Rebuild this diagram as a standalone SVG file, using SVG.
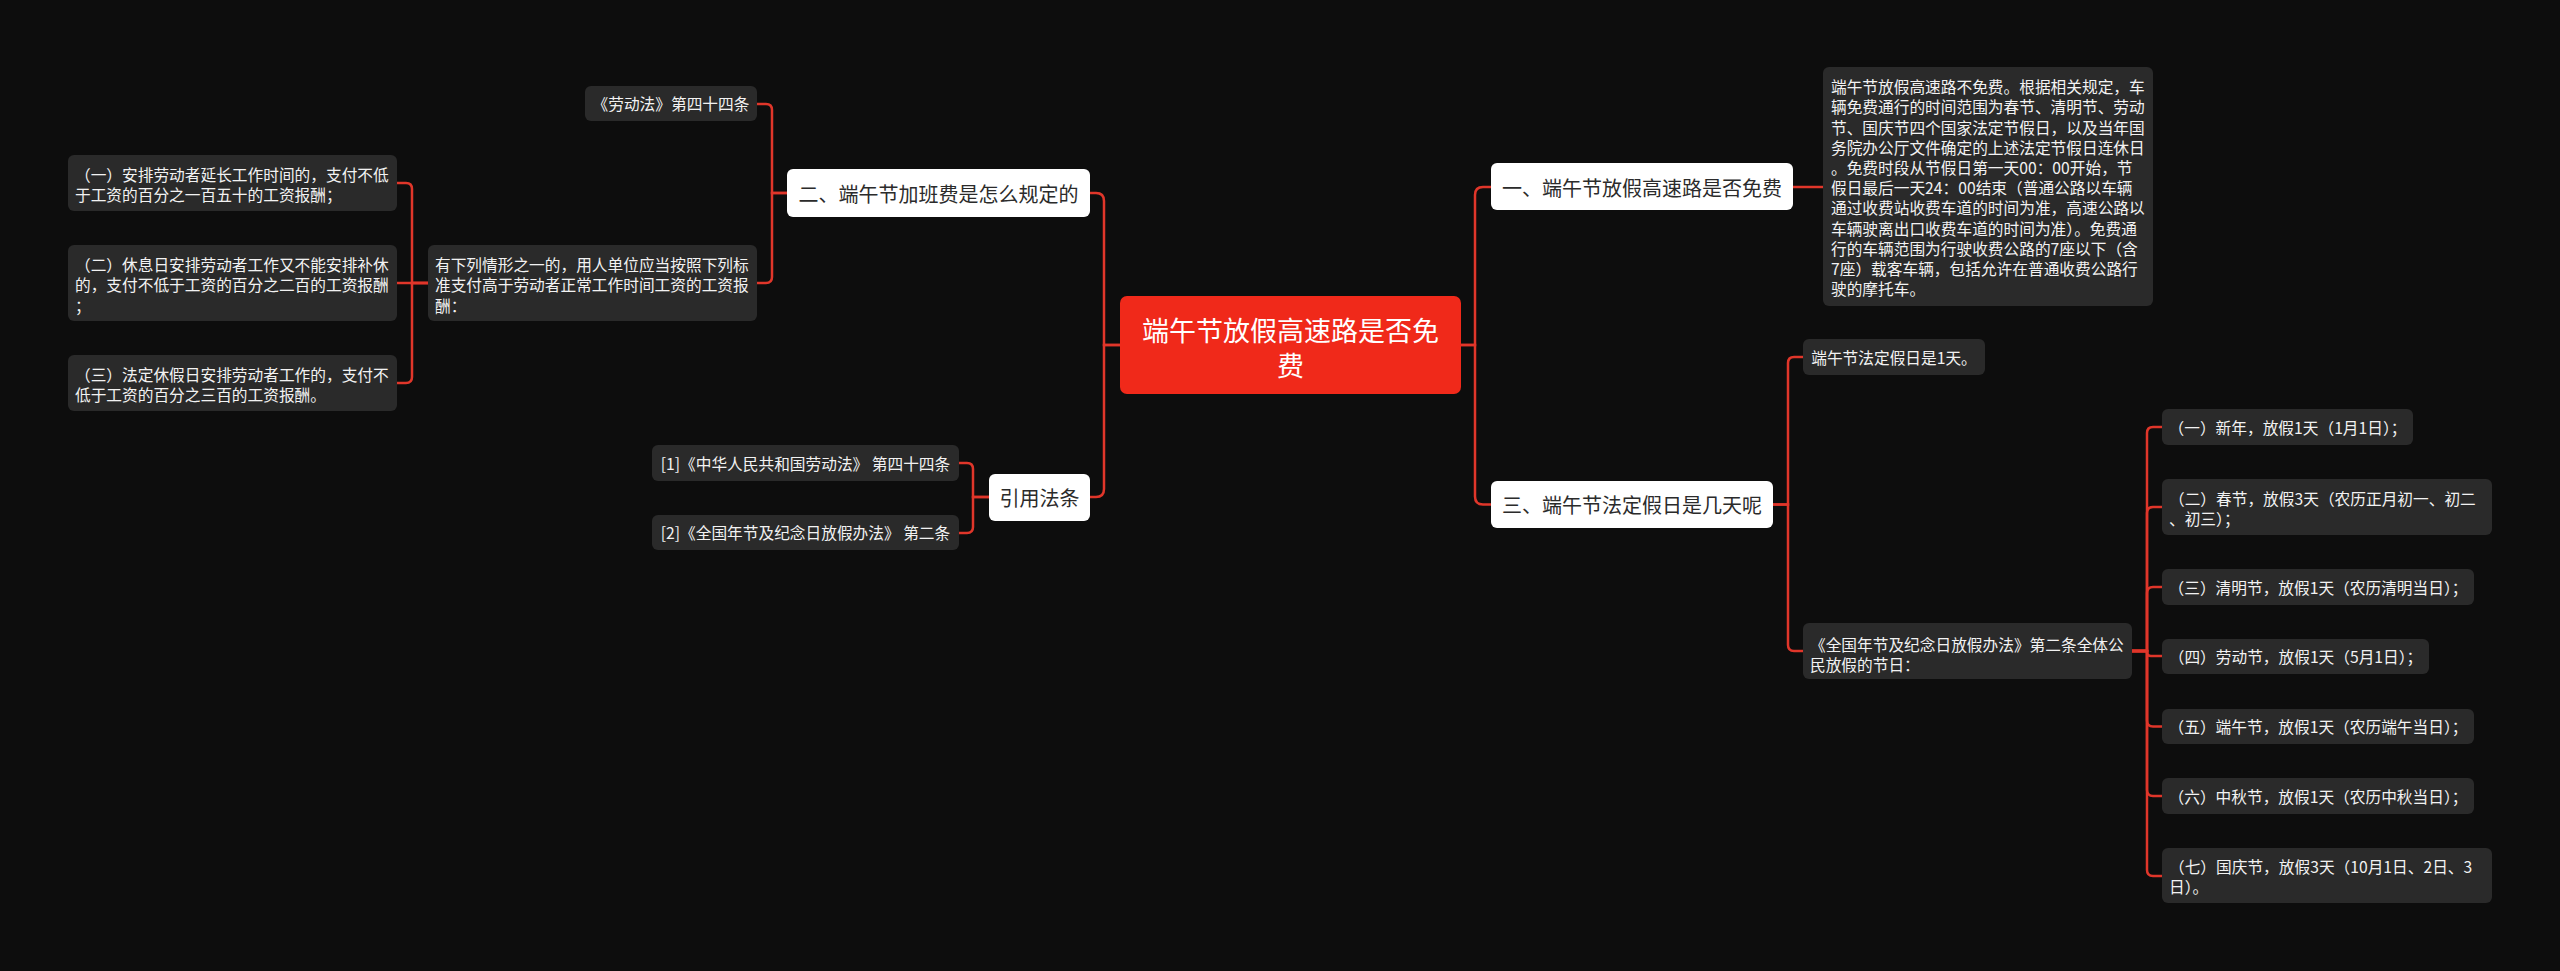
<svg xmlns="http://www.w3.org/2000/svg" width="2560" height="971" viewBox="0 0 2560 971">
<style>
.bg{fill:#0d0d0d}
.root rect{fill:#f0291a}
.root text{fill:#ffffff;font-size:27px}
.main rect{fill:#ffffff}
.main text{fill:#2b2b2b;font-size:20px}
.leaf rect{fill:#2a2a2a}
.leaf text{fill:#f2f2f2;font-size:15.7px}
text{font-family:"Noto Sans CJK SC","Noto Sans",sans-serif;dominant-baseline:central}
.c{text-anchor:middle}
.conn path{fill:none;stroke:#e0362a;stroke-width:2.5}
</style>
<rect class="bg" x="0" y="0" width="2560" height="971"/>

<g class="conn" id="connectors">
<path d="M1461 345 H1475 V195 Q1475 187 1483 187 H1491"/>
<path d="M1461 345 H1475 V496.5 Q1475 504.5 1483 504.5 H1491"/>
<path d="M1120 345 H1104 V201 Q1104 193 1096 193 H1090"/>
<path d="M1120 345 H1104 V489 Q1104 497 1096 497 H1090"/>
<path d="M787 193 H772 V110 Q772 104 766 104 H757"/>
<path d="M787 193 H772 V277 Q772 283 766 283 H757"/>
<path d="M428 283 H412 V189 Q412 183 406 183 H397"/>
<path d="M428 283 H397"/>
<path d="M428 283 H412 V377 Q412 383 406 383 H397"/>
<path d="M989 497 H973 V469 Q973 463 967 463 H959"/>
<path d="M989 497 H973 V527 Q973 533 967 533 H959"/>
<path d="M1793 187 H1823"/>
<path d="M1773 504.5 H1788 V363 Q1788 357 1794 357 H1803"/>
<path d="M1773 504.5 H1788 V645 Q1788 651 1794 651 H1803"/>
<path d="M2132 651 H2147 V433 Q2147 427 2153 427 H2162"/>
<path d="M2132 651 H2147 V513 Q2147 507 2153 507 H2162"/>
<path d="M2132 651 H2147 V593 Q2147 587 2153 587 H2162"/>
<path d="M2132 651 H2147 V652 Q2147 656 2151 656 H2162"/>
<path d="M2132 651 H2147 V720.5 Q2147 726.5 2153 726.5 H2162"/>
<path d="M2132 651 H2147 V790 Q2147 796 2153 796 H2162"/>
<path d="M2132 651 H2147 V870 Q2147 876 2153 876 H2162"/>
</g>

<g id="root" class="root">
<rect x="1120" y="296" width="341" height="98" rx="7"/>
<text class="c" x="1290.5" y="329">端午节放假高速路是否免</text>
<text class="c" x="1290.5" y="364">费</text>
</g>

<g id="n-yi" class="main">
<rect x="1491" y="163" width="302" height="47" rx="6"/>
<text class="c" x="1642" y="187">一、端午节放假高速路是否免费</text>
</g>
<g id="n-yi-detail" class="leaf">
<rect x="1823" y="67" width="330" height="239" rx="6"/>
<text x="1831" y="86.7">端午节放假高速路不免费。根据相关规定，车</text>
<text x="1831" y="106.9">辆免费通行的时间范围为春节、清明节、劳动</text>
<text x="1831" y="127.1">节、国庆节四个国家法定节假日，以及当年国</text>
<text x="1831" y="147.3">务院办公厅文件确定的上述法定节假日连休日</text>
<text x="1831" y="167.5">。免费时段从节假日第一天00：00开始，节</text>
<text x="1831" y="187.7">假日最后一天24：00结束（普通公路以车辆</text>
<text x="1831" y="207.9">通过收费站收费车道的时间为准，高速公路以</text>
<text x="1831" y="228.1">车辆驶离出口收费车道的时间为准）。免费通</text>
<text x="1831" y="248.3">行的车辆范围为行驶收费公路的7座以下（含</text>
<text x="1831" y="268.5">7座）载客车辆，包括允许在普通收费公路行</text>
<text x="1831" y="288.7">驶的摩托车。</text>
</g>

<g id="n-san" class="main">
<rect x="1491" y="481" width="282" height="47" rx="6"/>
<text class="c" x="1632" y="504.5">三、端午节法定假日是几天呢</text>
</g>
<g id="n-san-1" class="leaf">
<rect x="1803" y="339" width="182" height="36" rx="6"/>
<text class="c" x="1894" y="357">端午节法定假日是1天。</text>
</g>
<g id="n-san-2" class="leaf">
<rect x="1803" y="623" width="329" height="56" rx="6"/>
<text x="1810" y="644">《全国年节及纪念日放假办法》第二条全体公</text>
<text x="1810" y="664">民放假的节日：</text>
</g>
<g id="h1" class="leaf">
<rect x="2162" y="409" width="251" height="36" rx="6"/>
<text class="c" x="2287.5" y="427">（一）新年，放假1天（1月1日）；</text>
</g>
<g id="h2" class="leaf">
<rect x="2162" y="479" width="330" height="56" rx="6"/>
<text x="2169" y="498.3">（二）春节，放假3天（农历正月初一、初二</text>
<text x="2169" y="518.3">、初三）；</text>
</g>
<g id="h3" class="leaf">
<rect x="2162" y="569" width="312" height="36" rx="6"/>
<text class="c" x="2318" y="587">（三）清明节，放假1天（农历清明当日）；</text>
</g>
<g id="h4" class="leaf">
<rect x="2162" y="639" width="267" height="35" rx="6"/>
<text class="c" x="2295.5" y="656.5">（四）劳动节，放假1天（5月1日）；</text>
</g>
<g id="h5" class="leaf">
<rect x="2162" y="709" width="312" height="35" rx="6"/>
<text class="c" x="2318" y="726.5">（五）端午节，放假1天（农历端午当日）；</text>
</g>
<g id="h6" class="leaf">
<rect x="2162" y="778" width="312" height="36" rx="6"/>
<text class="c" x="2318" y="796">（六）中秋节，放假1天（农历中秋当日）；</text>
</g>
<g id="h7" class="leaf">
<rect x="2162" y="848" width="330" height="55" rx="6"/>
<text x="2169" y="866.7">（七）国庆节，放假3天（10月1日、2日、3</text>
<text x="2169" y="886.7">日）。</text>
</g>

<g id="n-er" class="main">
<rect x="787" y="169" width="303" height="48" rx="6"/>
<text class="c" x="938.5" y="193">二、端午节加班费是怎么规定的</text>
</g>
<g id="n-er-1" class="leaf">
<rect x="585" y="86" width="172" height="35" rx="6"/>
<text class="c" x="671" y="103.5">《劳动法》第四十四条</text>
</g>
<g id="n-er-2" class="leaf">
<rect x="428" y="245" width="329" height="76" rx="6"/>
<text x="435" y="264.3">有下列情形之一的，用人单位应当按照下列标</text>
<text x="435" y="284.3">准支付高于劳动者正常工作时间工资的工资报</text>
<text x="435" y="305">酬：</text>
</g>
<g id="w1" class="leaf">
<rect x="68" y="155" width="329" height="56" rx="6"/>
<text x="75" y="174.3">（一）安排劳动者延长工作时间的，支付不低</text>
<text x="75" y="194.3">于工资的百分之一百五十的工资报酬；</text>
</g>
<g id="w2" class="leaf">
<rect x="68" y="245" width="329" height="76" rx="6"/>
<text x="75" y="264.3">（二）休息日安排劳动者工作又不能安排补休</text>
<text x="75" y="284.3">的，支付不低于工资的百分之二百的工资报酬</text>
<text x="75" y="305">；</text>
</g>
<g id="w3" class="leaf">
<rect x="68" y="355" width="329" height="56" rx="6"/>
<text x="75" y="374.7">（三）法定休假日安排劳动者工作的，支付不</text>
<text x="75" y="394.7">低于工资的百分之三百的工资报酬。</text>
</g>

<g id="n-ref" class="main">
<rect x="989" y="474" width="101" height="47" rx="6"/>
<text class="c" x="1039.5" y="497.5">引用法条</text>
</g>
<g id="ref1" class="leaf">
<rect x="652" y="445" width="307" height="36" rx="6"/>
<text class="c" x="805.5" y="463">[1]《中华人民共和国劳动法》 第四十四条</text>
</g>
<g id="ref2" class="leaf">
<rect x="652" y="515" width="307" height="35" rx="6"/>
<text class="c" x="805.5" y="532.5">[2]《全国年节及纪念日放假办法》 第二条</text>
</g>
</svg>
